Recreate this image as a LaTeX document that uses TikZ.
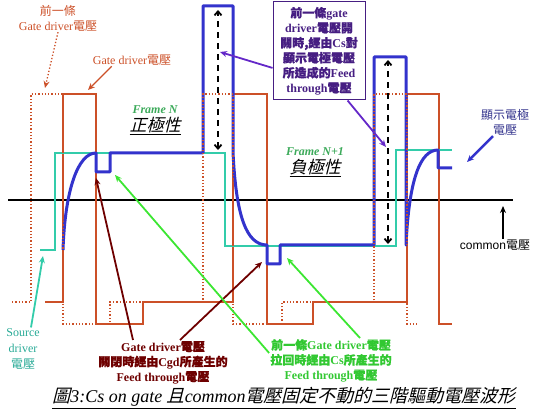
\documentclass[tikz,border=0pt]{standalone}
\usepackage{fontspec}
\setmainfont{Liberation Serif}
\newfontfamily\arialfont{Liberation Sans}
\newfontfamily\hanzifont{Noto Sans CJK TC}
\newfontfamily\hanzibffont[FakeBold=1]{Noto Sans CJK TC}
\newfontfamily\hanzislfont[FakeSlant=0.25]{Noto Sans CJK TC}
\usetikzlibrary{positioning,arrows.meta}

\definecolor{gatecol}{RGB}{204,80,40}
\definecolor{pixcol}{RGB}{51,51,204}
\definecolor{srccol}{RGB}{51,204,170}
\definecolor{srctext}{RGB}{40,170,150}
\definecolor{csgreen}{RGB}{60,230,50}
\definecolor{cstext}{RGB}{50,200,50}
\definecolor{framegreen}{RGB}{60,170,90}
\definecolor{cgdred}{RGB}{110,0,0}
\definecolor{fdpurple}{RGB}{100,40,200}
\definecolor{fdtext}{RGB}{70,30,130}
\definecolor{fdframe}{RGB}{130,110,170}
\definecolor{pixtext}{RGB}{50,50,140}

\newcommand{\hanzi}[1]{{\hanzifont #1}}
\newcommand{\hanzibf}[1]{{\hanzibffont #1}}
\newcommand{\hanzisl}[1]{{\hanzislfont #1}}

\begin{document}
\begin{tikzpicture}[x=1pt,y=-1pt,
    gate/.style={gatecol, line width=1.3pt},
    prevgate/.style={gatecol, line width=1.3pt, dotted},
    pixel/.style={pixcol, line width=3pt, line join=round},
    source/.style={srccol, line width=1.5pt},
    common/.style={black, line width=1.6pt},
    fdarrow/.style={black, line width=1.8pt, dash pattern=on 6pt off 5pt,
        {Straight Barb[length=4pt,width=7pt]}-{Straight Barb[length=4pt,width=7pt]}},
    pointer/.style={line width=1.8pt, -{Stealth[length=7pt,width=6pt]}},
    lbl/.style={inner sep=1pt, align=center, font=\fontsize{12}{15}\selectfont}]
    \useasboundingbox (0,0) rectangle (554,411);

    % waveforms
    \draw[common] (8,200) -- (513,200);
    \draw[gate] (45,302) -- (63,302) -- (63,94) -- (96,94) -- (96,324) -- (143,324) -- (143,302)
        -- (233,302) -- (233,94) -- (267,94) -- (267,324) -- (313,324) -- (313,302)
        -- (407,302) -- (407,94) -- (439,94) -- (439,324) -- (452,324);
    \draw[source] (40,250) -- (55,250) -- (55,153) -- (225,153) -- (225,246) -- (396,246)
        -- (396,150) -- (452,150);
    \draw[pixel] (63,250) .. controls (65,190) and (78,153) .. (96,153) -- (96,172) -- (110,172)
        -- (110,153) -- (203,153) -- (203,6) -- (233,6) -- (233,152)
        .. controls (236,215) and (246,245) .. (267,245) -- (267,264) -- (280,264) -- (280,245)
        -- (374,245) -- (374,57) -- (406,57) -- (406,245)
        .. controls (409,180) and (420,150) .. (438,150) -- (438,168) -- (452,168);
    \draw[prevgate] (12,302) -- (31,302) -- (31,94) -- (63,94) -- (63,324) -- (110,324) -- (110,302)
        -- (203,302) -- (203,94) -- (233,94) -- (233,324) -- (282,324) -- (282,302)
        -- (374,302) -- (374,94) -- (407,94) -- (407,324) -- (418,324);

    % feed through heights
    \coordinate (fdonetop) at (218,10);
    \coordinate (fdonebot) at (218,150);
    \coordinate (fdtwotop) at (388,60);
    \coordinate (fdtwobot) at (388,244);
    \draw[fdarrow] (fdonebot) -- (fdonetop);
    \draw[fdarrow] (fdtwobot) -- (fdtwotop);

    % labels
    \node[lbl, gatecol] (prevlbl) at (58,18) {\hanzi{前一條}\\Gate driver\hanzi{電壓}};
    \node[lbl, gatecol] (gatelbl) at (132,60) {Gate driver\hanzi{電壓}};
    \node[lbl, framegreen, font=\fontsize{12}{14}\bfseries\itshape] (frameN) at (155,110) {Frame N};
    \node[lbl, font=\fontsize{17}{19}\selectfont] (pospol) [below=1pt of frameN] {\underline{\hanzisl{正極性}}};
    \node[lbl, framegreen, font=\fontsize{12}{14}\bfseries\itshape] (frameNN) at (315,152) {Frame N+1};
    \node[lbl, font=\fontsize{17}{19}\selectfont] (negpol) [below=1pt of frameNN] {\underline{\hanzisl{負極性}}};
    \node[draw=fdframe, line width=1pt, fdtext, inner sep=2pt, minimum width=92pt, minimum height=98pt,
        align=center, font=\fontsize{12}{15}\bfseries] (fdbox) at (319,51)
        {\hanzibf{前一條}gate\\driver\hanzibf{電壓開}\\\hanzibf{關時,經由}Cs\hanzibf{對}\\
         \hanzibf{顯示電極電壓}\\\hanzibf{所造成的}Feed\\through\hanzibf{電壓}};
    \node[lbl, pixtext] (pixlbl) at (505,122) {\hanzi{顯示電極}\\\hanzi{電壓}};
    \node[lbl, black] (comlbl) at (495,245) {\arialfont common\hanzi{電壓}};
    \node[lbl, srctext, font=\fontsize{12}{16}\selectfont] (srclbl) at (23,349) {Source\\driver\\\hanzi{電壓}};
    \node[lbl, cgdred, anchor=north, font=\fontsize{12}{15}\bfseries] (cgdlbl) at (163,340)
        {Gate driver\hanzibf{電壓}\\\hanzibf{關閉時經由}Cgd\hanzibf{所產生的}\\Feed through\hanzibf{電壓}};
    \node[lbl, cstext, anchor=north, font=\fontsize{12}{15}\bfseries] (cslbl) at (331,338)
        {\hanzibf{前一條}Gate driver\hanzibf{電壓}\\\hanzibf{拉回時經由}Cs\hanzibf{所產生的}\\Feed through\hanzibf{電壓}};
    \node[inner sep=0pt, font=\fontsize{18}{20}\selectfont\itshape] (caption) at (284,398)
        {\underline{\hanzisl{圖}3:Cs on gate \hanzisl{且}common\hanzisl{電壓固定不動的三階驅動電壓波形}}};

    % pointers
    \coordinate (prevtip) at (45,88);
    \coordinate (gatetip) at (88,90);
    \coordinate (fdonemid) at (220,52);
    \coordinate (fdtwomid) at (386,147);
    \coordinate (pixtip) at (467,162);
    \coordinate (comtip) at (503,206);
    \coordinate (srctip) at (43,256);
    \coordinate (cgdtipone) at (96,178);
    \coordinate (cgdtiptwo) at (262,262);
    \coordinate (cstipone) at (115,175);
    \coordinate (cstiptwo) at (287,258);

    \draw[pointer, gatecol, line width=1.3pt, dotted] (prevlbl.south) -- (prevtip);
    \draw[pointer, gatecol, line width=1.3pt] ([xshift=20pt]gatelbl.south west) -- (gatetip);
    \draw[pointer, fdpurple] (fdbox.200) -- (fdonemid);
    \draw[pointer, fdpurple] (fdbox.-60) -- (fdtwomid);
    \draw[pointer, pixcol, line width=2.5pt] ([xshift=-12pt]pixlbl.south) -- (pixtip);
    \draw[pointer, black] ([xshift=8pt]comlbl.north) -- (comtip);
    \draw[pointer, srccol] ([xshift=8pt]srclbl.north) -- (srctip);
    \draw[pointer, cgdred] ([xshift=-30pt]cgdlbl.north) -- (cgdtipone);
    \draw[pointer, cgdred] ([xshift=17pt]cgdlbl.north) -- (cgdtiptwo);
    \draw[pointer, csgreen] ([yshift=-15pt]cslbl.north west) -- (cstipone);
    \draw[pointer, csgreen] ([xshift=29pt]cslbl.north) -- (cstiptwo);
\end{tikzpicture}
\end{document}
